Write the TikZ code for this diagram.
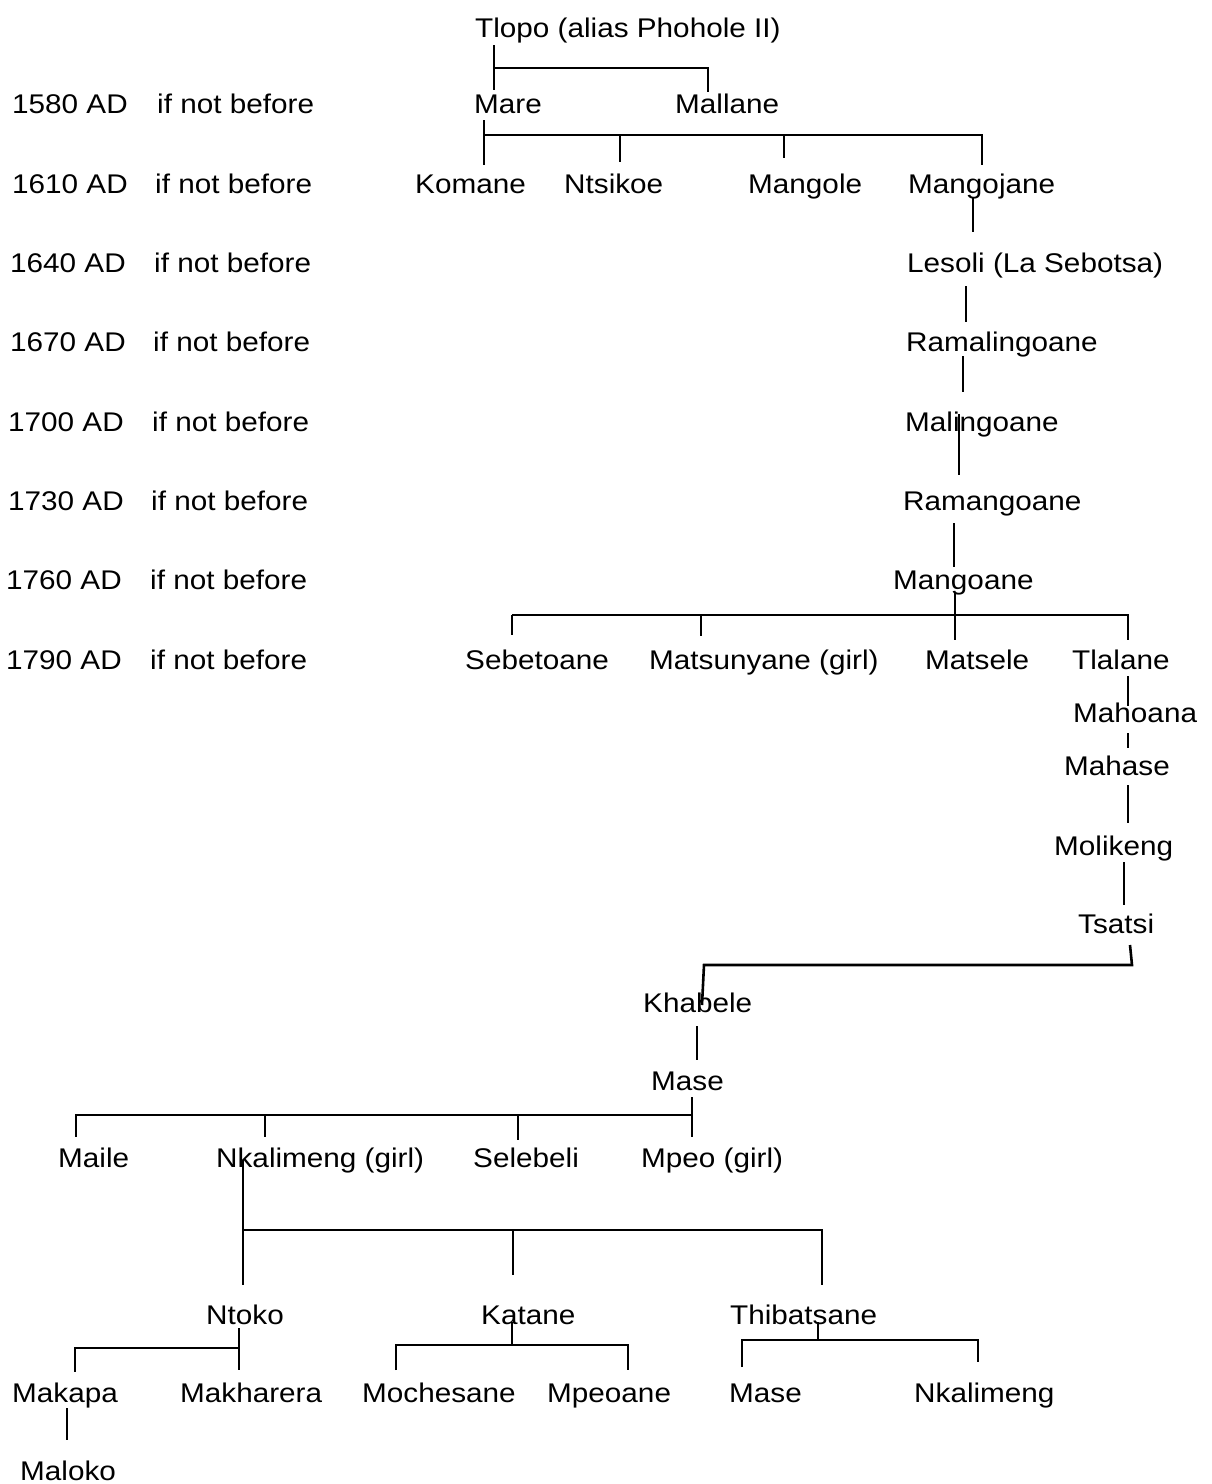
\documentclass[tikz,border=0pt]{standalone}
\usepackage{fontspec}
\newfontfamily\chartfont[FakeStretch=1.1]{Liberation Sans}
\begin{document}
\begin{tikzpicture}[x=1pt,y=-1pt,
  person/.style={anchor=base west, inner xsep=0pt, inner ysep=3pt,
    font=\chartfont\fontsize{27}{30}\selectfont},
  era/.style={person},
  link/.style={line width=2.6pt, line cap=butt}]
\fill[white] (0,0) rectangle (1212,1484);
\useasboundingbox (0,0) rectangle (1212,1484);

% ---- generation labels ----
\node[era] (y1580) at (12,113)  {1580 AD};  \node[era] (n1580) at (157,113) {if not before};
\node[era] (y1610) at (12,193)  {1610 AD};  \node[era] (n1610) at (155,193) {if not before};
\node[era] (y1640) at (10,272)  {1640 AD};  \node[era] (n1640) at (154,272) {if not before};
\node[era] (y1670) at (10,351)  {1670 AD};  \node[era] (n1670) at (153,351) {if not before};
\node[era] (y1700) at (8,431)   {1700 AD};  \node[era] (n1700) at (152,431) {if not before};
\node[era] (y1730) at (8,510)   {1730 AD};  \node[era] (n1730) at (151,510) {if not before};
\node[era] (y1760) at (6,589)   {1760 AD};  \node[era] (n1760) at (150,589) {if not before};
\node[era] (y1790) at (6,669)   {1790 AD};  \node[era] (n1790) at (150,669) {if not before};

% ---- people ----
\node[person] (tlopo)        at (475,37)   {Tlopo (alias Phohole II)};
\node[person] (mare)         at (474,113)  {Mare};
\node[person] (mallane)      at (675,113)  {Mallane};
\node[person] (komane)       at (415,193)  {Komane};
\node[person] (ntsikoe)      at (564,193)  {Ntsikoe};
\node[person] (mangole)      at (748,193)  {Mangole};
\node[person] (mangojane)    at (908,193)  {Mangojane};
\node[person] (lesoli)       at (907,272)  {Lesoli (La Sebotsa)};
\node[person] (ramalingoane) at (906,351)  {Ramalingoane};
\node[person] (malingoane)   at (905,431)  {Malingoane};
\node[person] (ramangoane)   at (903,510)  {Ramangoane};
\node[person] (mangoane)     at (893,589)  {Mangoane};
\node[person] (sebetoane)    at (465,669)  {Sebetoane};
\node[person] (matsunyane)   at (649,669)  {Matsunyane (girl)};
\node[person] (matsele)      at (925,669)  {Matsele};
\node[person] (tlalane)      at (1072,669) {Tlalane};
\node[person] (mahoana)      at (1073,722) {Mahoana};
\node[person] (mahase)       at (1064,775) {Mahase};
\node[person] (molikeng)     at (1054,855) {Molikeng};
\node[person] (tsatsi)       at (1078,933) {Tsatsi};
\node[person] (khabele)      at (643,1012) {Khabele};
\node[person] (mase)         at (651,1090) {Mase};
\node[person] (maile)        at (58,1167)  {Maile};
\node[person] (nkalimeng)    at (216,1167) {Nkalimeng (girl)};
\node[person] (selebeli)     at (473,1167) {Selebeli};
\node[person] (mpeo)         at (641,1167) {Mpeo (girl)};
\node[person] (ntoko)        at (206,1324) {Ntoko};
\node[person] (katane)       at (481,1324) {Katane};
\node[person] (thibatsane)   at (730,1324) {Thibatsane};
\node[person] (makapa)       at (12,1402)  {Makapa};
\node[person] (makharera)    at (180,1402) {Makharera};
\node[person] (mochesane)    at (362,1402) {Mochesane};
\node[person] (mpeoane)      at (547,1402) {Mpeoane};
\node[person] (masetwo)      at (729,1402) {Mase};
\node[person] (nkalimengtwo) at (914,1402) {Nkalimeng};
\node[person] (maloko)       at (20,1480)  {Maloko};

% ---- bus bar end points ----
\coordinate (t1) at (494,68);   \coordinate (t2) at (708,68);
\coordinate (b1) at (484,135);  \coordinate (b2) at (620,135);
\coordinate (b3) at (784,135);  \coordinate (b4) at (982,135);
\coordinate (h1) at (512,615);  \coordinate (h2) at (701,615);
\coordinate (h3) at (1128,615);
\coordinate (k1) at (704,965);  \coordinate (k2) at (1132,965);
\coordinate (o1) at (76,1115);  \coordinate (o2) at (265,1115);
\coordinate (o3) at (518,1115); \coordinate (o4) at (692,1115);
\coordinate (p1) at (243,1230); \coordinate (p2) at (513,1230);
\coordinate (p3) at (822,1230);
\coordinate (q1) at (75,1348);  \coordinate (q2) at (239,1348);
\coordinate (r1) at (396,1345); \coordinate (r3) at (628,1345);
\coordinate (s1) at (742,1340); \coordinate (s3) at (978,1340);

\begin{scope}[link]
% Tlopo
\draw ([shift={(19,8)}]tlopo.base west) -- ([shift={(20,-23)}]mare.base west);
\draw (t1) -- (t2) -- ([shift={(33,-21)}]mallane.base west);
% Mare
\draw ([shift={(10,7)}]mare.base west) -- ([shift={(69,-28)}]komane.base west);
\draw (b1) -- (b4) -- ([shift={(74,-28)}]mangojane.base west);
\draw (b2) -- ([shift={(56,-31)}]ntsikoe.base west);
\draw (b3) -- ([shift={(36,-35)}]mangole.base west);
% single line of descent
\draw ([shift={(65,5)}]mangojane.base west) -- ([shift={(66,-40)}]lesoli.base west);
\draw ([shift={(59,14)}]lesoli.base west) -- ([shift={(60,-29)}]ramalingoane.base west);
\draw ([shift={(57,5)}]ramalingoane.base west) -- ([shift={(58,-39)}]malingoane.base west);
\draw ([shift={(54,-17)}]malingoane.base west) -- ([shift={(56,-35)}]ramangoane.base west);
\draw ([shift={(51,13)}]ramangoane.base west) -- ([shift={(61,-22)}]mangoane.base west);
% Mangoane
\draw ([shift={(62,3)}]mangoane.base west) -- ([shift={(30,-29)}]matsele.base west);
\draw (h1) -- (h3) -- ([shift={(56,-29)}]tlalane.base west);
\draw (h1) -- ([shift={(47,-34)}]sebetoane.base west);
\draw (h2) -- ([shift={(52,-33)}]matsunyane.base west);
% Tlalane line
\draw ([shift={(56,7)}]tlalane.base west) -- ([shift={(55,-16)}]mahoana.base west);
\draw ([shift={(55,11)}]mahoana.base west) -- ([shift={(64,-27)}]mahase.base west);
\draw ([shift={(64,10)}]mahase.base west) -- ([shift={(74,-32)}]molikeng.base west);
\draw ([shift={(70,7)}]molikeng.base west) -- ([shift={(46,-28)}]tsatsi.base west);
% Tsatsi
\draw ([shift={(52,12)}]tsatsi.base west) -- (k2) -- (k1) -- ([shift={(59,-7)}]khabele.base west);
\draw ([shift={(54,14)}]khabele.base west) -- ([shift={(46,-30)}]mase.base west);
% Mase
\draw ([shift={(41,7)}]mase.base west) -- ([shift={(51,-30)}]mpeo.base west);
\draw (o4) -- (o1) -- ([shift={(18,-30)}]maile.base west);
\draw (o2) -- ([shift={(49,-30)}]nkalimeng.base west);
\draw (o3) -- ([shift={(45,-27)}]selebeli.base west);
% Nkalimeng (girl)
\draw ([shift={(27,-7)}]nkalimeng.base west) -- ([shift={(37,-39)}]ntoko.base west);
\draw (p1) -- (p3) -- ([shift={(92,-39)}]thibatsane.base west);
\draw (p2) -- ([shift={(32,-49)}]katane.base west);
% Ntoko
\draw ([shift={(33,4)}]ntoko.base west) -- ([shift={(59,-32)}]makharera.base west);
\draw (q2) -- (q1) -- ([shift={(63,-30)}]makapa.base west);
% Katane
\draw ([shift={(31,-2)}]katane.base west) -- ([shift={(31,21)}]katane.base west);
\draw ([shift={(34,-32)}]mochesane.base west) -- (r1) -- (r3) -- ([shift={(81,-32)}]mpeoane.base west);
% Thibatsane
\draw ([shift={(88,-2)}]thibatsane.base west) -- ([shift={(88,16)}]thibatsane.base west);
\draw ([shift={(13,-35)}]masetwo.base west) -- (s1) -- (s3) -- ([shift={(64,-40)}]nkalimengtwo.base west);
% Makapa
\draw ([shift={(55,6)}]makapa.base west) -- ([shift={(47,-40)}]maloko.base west);
\end{scope}
\end{tikzpicture}
\end{document}
